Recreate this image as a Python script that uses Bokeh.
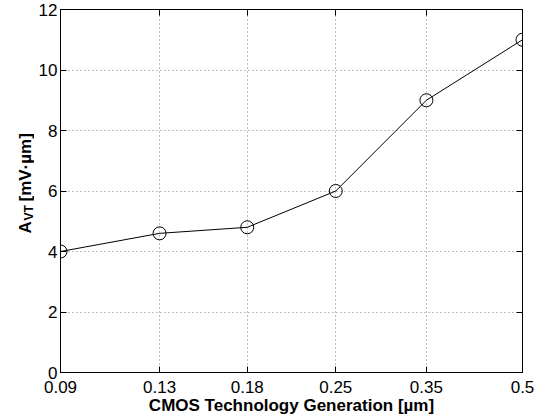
import math
from bokeh.plotting import figure
from bokeh.layouts import row
from bokeh.models import (Range1d, FixedTicker, LogAxis, LinearAxis, Label)
from bokeh.embed import file_html
from bokeh.resources import INLINE

# data
tech_um = [0.09, 0.13, 0.18, 0.25, 0.35, 0.5]
avt = [4.0, 4.6, 4.8, 6.0, 9.0, 11.0]
x_tick_labels = ["0.09", "0.13", "0.18", "0.25", "0.35", "0.5"]
y_ticks = [0, 2, 4, 6, 8, 10, 12]

FONT = "Liberation Sans"
LEFT_W = 34

p = figure(width=534 - LEFT_W, height=419, x_axis_type="log",
           x_range=Range1d(0.09, 0.5), y_range=Range1d(0, 12),
           output_backend="svg", toolbar_location=None,
           min_border_left=60 - LEFT_W, min_border_right=12,
           min_border_top=9, min_border_bottom=47)

p.background_fill_color = "white"
p.border_fill_color = "white"
p.outline_line_color = "black"
p.outline_line_width = 1

overrides = {t: l for t, l in zip(tech_um, x_tick_labels)}

def style_axis(ax, labels=True):
    ax.axis_line_color = "black"
    ax.major_tick_in = 6
    ax.major_tick_out = 0
    ax.minor_tick_in = 0
    ax.minor_tick_out = 0
    ax.major_tick_line_color = "black"
    ax.major_label_text_font = FONT
    if labels:
        ax.major_label_text_font_size = "17px"
        ax.major_label_text_color = "black"
    else:
        ax.major_label_text_color = None
        ax.major_label_text_font_size = "1px"
        ax.major_label_standoff = 0

xa = p.xaxis[0]
xa.ticker = FixedTicker(ticks=tech_um)
xa.major_label_overrides = overrides
xa.major_label_standoff = 8
style_axis(xa)
xa.axis_label = "CMOS Technology Generation [\u00b5m]"
xa.axis_label_text_font = FONT
xa.axis_label_text_font_size = "17px"
xa.axis_label_text_font_style = "bold"
xa.axis_label_text_color = "black"
xa.axis_label_standoff = 0

ya = p.yaxis[0]
ya.ticker = FixedTicker(ticks=y_ticks)
ya.major_label_standoff = 3
style_axis(ya)

top = LogAxis(ticker=FixedTicker(ticks=tech_um))
style_axis(top, labels=False)
p.add_layout(top, "above")
right = LinearAxis(ticker=FixedTicker(ticks=y_ticks))
style_axis(right, labels=False)
p.add_layout(right, "right")

p.xgrid.ticker = FixedTicker(ticks=tech_um)
p.ygrid.ticker = FixedTicker(ticks=y_ticks)
for g in (p.xgrid[0], p.ygrid[0]):
    g.grid_line_color = "#7f7f7f"
    g.grid_line_dash = "1 3"
    g.grid_line_width = 1

p.line(tech_um, avt, line_color="black", line_width=1)
p.scatter(tech_um, avt, marker="circle", size=13, fill_color=None,
          line_color="black", line_width=1)

# y-axis title with subscript, in a narrow strip to the left
lab = figure(width=LEFT_W, height=419, x_range=Range1d(0, 1), y_range=Range1d(0, 1),
             output_backend="svg", toolbar_location=None,
             x_axis_location=None, y_axis_location=None,
             min_border=0, min_border_left=0, min_border_right=0,
             min_border_top=0, min_border_bottom=0)
lab.outline_line_color = None
lab.grid.visible = False
lab.background_fill_color = "white"
lab.border_fill_color = "white"

# the strip's frame is aligned with the main frame (bottom edge at canvas y=372)
common = dict(x_units="screen", y_units="screen", text_font=FONT,
              text_font_style="bold", text_color="black",
              text_baseline="alphabetic", text_align="left", angle=math.pi / 2)
lab.add_layout(Label(x=25, y=139, text="A", text_font_size="17px", **common))
lab.add_layout(Label(x=28, y=152, text="VT", text_font_size="12px", **common))
lab.add_layout(Label(x=25, y=171, text="[mV\u00b7\u00b5m]", text_font_size="17px", **common))

layout = row(lab, p, spacing=0)
open("out.html", "w").write(file_html(layout, INLINE))
